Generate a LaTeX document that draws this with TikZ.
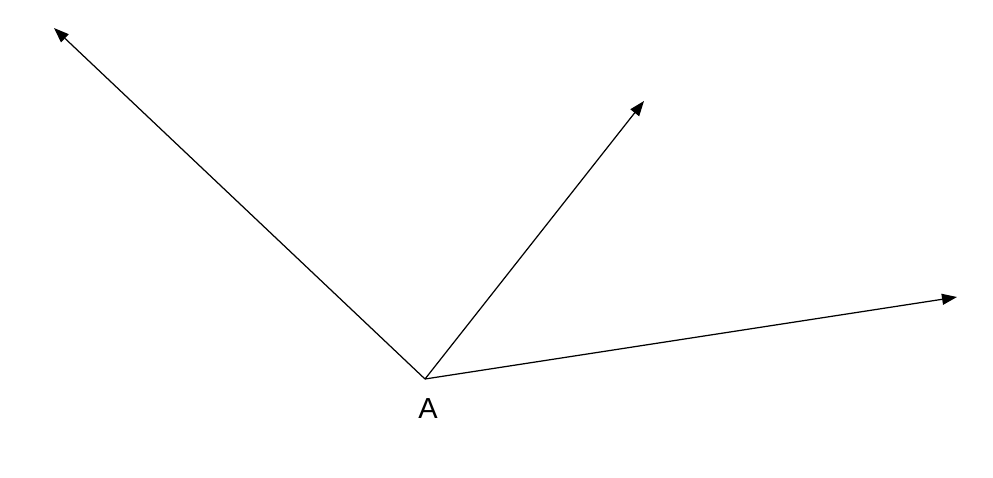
\documentclass[tikz,border=0pt]{standalone}
\usepackage{fontspec}
\setmainfont{Liberation Sans}
\usetikzlibrary{arrows.meta}
\begin{document}
\begin{tikzpicture}[x=0.02cm,y=-0.02cm,
  vec/.style={line width=0.7pt,-{Triangle[length=0.3cm,width=0.22cm]}},
  lbl/.style={inner sep=0pt,font=\fontsize{16.5}{18}\selectfont}]
\useasboundingbox (0,0) rectangle (993,477);
\coordinate (A) at (425,379);
\coordinate (t1) at (54,28);
\coordinate (t2) at (644,101);
\coordinate (t3) at (957,297);
\draw[vec] (A) -- (t1);
\draw[vec] (A) -- (t2);
\draw[vec] (A) -- (t3);
\node[lbl] (la) at (428,408.5) {A};
\end{tikzpicture}
\end{document}
